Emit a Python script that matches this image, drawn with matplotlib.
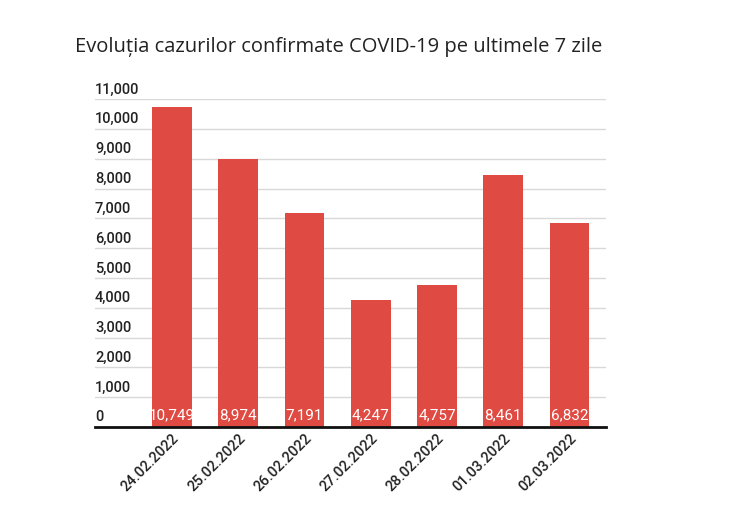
import matplotlib
matplotlib.use('Agg')
import matplotlib.pyplot as plt
import matplotlib.transforms as mtransforms

# data
dates = ['24.02.2022', '25.02.2022', '26.02.2022', '27.02.2022',
         '28.02.2022', '01.03.2022', '02.03.2022']
cases = [10749, 8974, 7191, 4247, 4757, 8461, 6832]
yticks = list(range(0, 11001, 1000))

bar_color = '#df4a42'

fig = plt.figure(figsize=(7.33, 5.18), dpi=100)
ax = fig.add_axes([0.1296, 0.1757, 0.697, 0.633])

x = range(len(dates))
ax.bar(x, cases, width=0.6, color=bar_color, zorder=3)

ax.set_xlim(-1.16, 6.55)
ax.set_ylim(0, 11000)

# grid
ax.set_yticks(yticks)
ax.yaxis.grid(True, color='#d9d9d9', linewidth=1, zorder=0)
ax.tick_params(axis='y', length=0, labelleft=False)
for s in ['top', 'right', 'left']:
    ax.spines[s].set_visible(False)
ax.spines['bottom'].set_linewidth(2)
ax.spines['bottom'].set_color('#111111')
ax.spines['bottom'].set_zorder(4)

# y labels above gridlines, left aligned
trans = mtransforms.blended_transform_factory(ax.transAxes, ax.transData)
offset = mtransforms.ScaledTranslation(0, 1.8 / 72, fig.dpi_scale_trans)
for v in yticks:
    ax.text(0.0, v, f'{v:,}', transform=trans + offset, ha='left', va='bottom',
            fontsize=10.5, family='Roboto', fontweight='medium', color='#222222')

# value labels at bar bottom
for i, v in enumerate(cases):
    ax.text(i, 150, f'{v:,}', ha='center', va='bottom', color='white',
            fontsize=11, family='Roboto', zorder=5)

ax.set_xticks(list(x))
ax.set_xticklabels(dates, rotation=45, ha='right', rotation_mode='anchor',
                   fontsize=10.5, family='Roboto', fontweight='medium', color='#222222')
ax.tick_params(axis='x', length=0, pad=3)

fig.text(0.102, 0.91, 'Evoluția cazurilor confirmate COVID-19 pe ultimele 7 zile',
         fontsize=14.5, family='Open Sans', color='#222222', ha='left', va='center')

fig.savefig('out.png', dpi=100)
